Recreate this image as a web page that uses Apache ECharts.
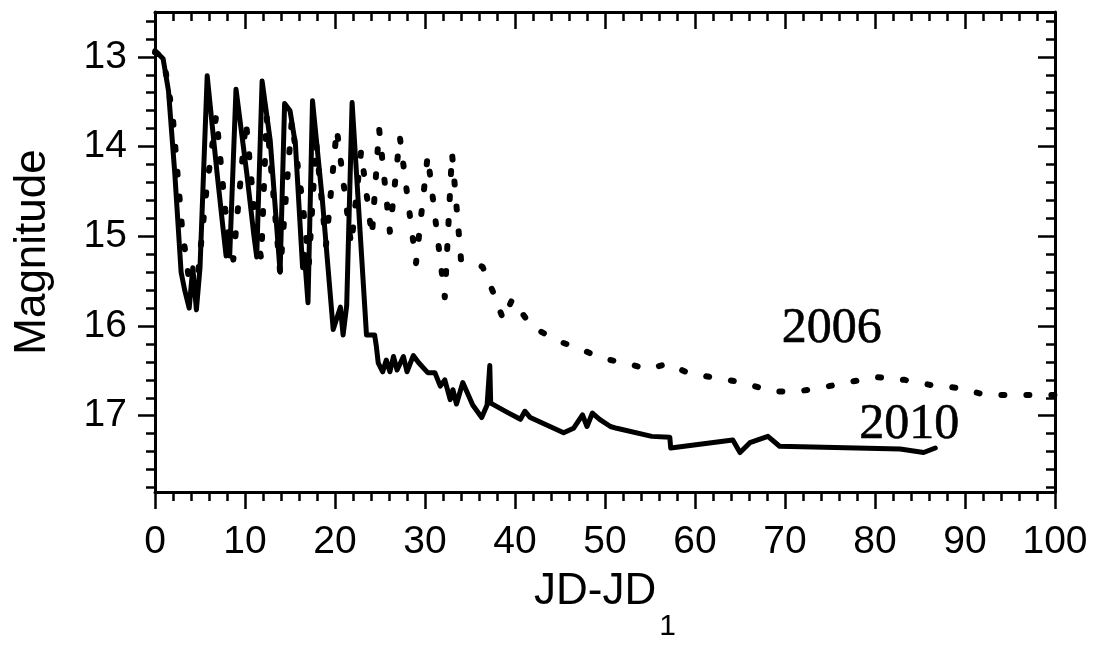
<!DOCTYPE html>
<html>
<head>
<meta charset="utf-8">
<script src="https://cdn.jsdelivr.net/npm/echarts@6/dist/echarts.min.js"></script>
<style>
html,body{margin:0;padding:0;background:#fff;}
#chart{width:1099px;height:647px;}
</style>
</head>
<body>
<div id="chart"></div>
<script>
// ---- data ----
const x2010 = [0, 0.9, 1.5, 2.2, 2.9, 3.3, 3.8, 4.2, 4.6, 5.0, 5.8, 6.9, 7.6, 7.9, 8.1, 8.3, 9.0, 10.2, 11.0, 11.3, 11.9, 12.8, 13.9, 14.4, 15.0, 15.6, 16.4, 16.6, 17.0, 17.5, 18.6, 19.8, 20.6, 20.9, 21.3, 21.9, 23.5, 24.4, 24.6, 24.8, 25.3, 25.7, 26.1, 26.5, 26.9, 27.6, 28.0, 28.7, 29.3, 30.3, 31.1, 31.7, 32.2, 32.8, 33.1, 33.5, 34.2, 35.3, 36.3, 36.9, 37.2, 37.3, 39.1, 40.6, 41.1, 41.7, 45.4, 46.5, 47.5, 48.0, 48.6, 49.4, 50.6, 51.3, 55.2, 57.2, 57.3, 64.2, 65.0, 66.1, 68.1, 69.4, 82.8, 85.4, 86.7];
const m2010 = [12.93, 13.02, 13.38, 14.3, 15.4, 15.6, 15.8, 15.35, 15.82, 15.35, 13.21, 14.3, 14.95, 15.22, 14.95, 15.22, 13.36, 14.3, 15.0, 15.23, 13.27, 13.93, 15.4, 13.52, 13.6, 13.97, 15.35, 15.2, 15.74, 13.49, 14.6, 16.04, 15.79, 16.1, 15.77, 13.51, 16.1, 16.1, 16.23, 16.41, 16.51, 16.38, 16.51, 16.34, 16.49, 16.34, 16.51, 16.33, 16.41, 16.52, 16.52, 16.67, 16.6, 16.82, 16.71, 16.87, 16.63, 16.88, 17.02, 16.88, 16.44, 16.86, 16.96, 17.04, 16.95, 17.02, 17.19, 17.14, 16.99, 17.12, 16.97, 17.04, 17.12, 17.14, 17.23, 17.24, 17.36, 17.27, 17.41, 17.3, 17.23, 17.34, 17.37, 17.41, 17.36];

const x2006 = [0, 0.9, 1.5, 2.0, 3.0, 3.8, 4.8, 5.7, 6.8, 7.8, 8.7, 10.1, 11.2, 11.8, 12.4, 13.9, 15.2, 16.4, 17.1, 17.9, 19.0, 20.2, 21.8, 22.9, 24.1, 24.9, 26.1, 27.2, 29.0, 30.3, 32.2, 33.0, 34.0, 36.4, 37.6, 38.7, 39.7, 41.8, 44.6, 47.6, 49.6, 52.2, 54.7, 57.0, 59.4, 62.4, 65.3, 68.6, 71.4, 74.4, 77.4, 80.3, 83.3, 86.3, 89.2, 92.4, 95.3, 98.3, 100];
const m2006 = [12.95, 13.0, 13.35, 13.7, 14.9, 15.5, 15.4, 14.5, 13.65, 14.7, 15.26, 13.71, 14.9, 15.25, 13.66, 15.4, 13.71, 14.63, 15.3, 13.95, 15.1, 13.8, 15.1, 14.05, 15.0, 13.8, 14.95, 13.89, 15.3, 14.1, 15.68, 14.07, 15.26, 15.34, 15.63, 15.93, 15.7, 16.0, 16.16, 16.27, 16.36, 16.41, 16.48, 16.42, 16.53, 16.58, 16.63, 16.73, 16.73, 16.68, 16.62, 16.57, 16.6, 16.66, 16.69, 16.77, 16.77, 16.77, 16.77];

const labelNames = ['2006', '2010'];
const labelX = [75.2, 83.8];
const labelM = [16.03, 17.1];

const xMin = 0, xMax = 100, xStep = 10;
const yMin = 12.5, yMax = 17.85;
const yMajor = [13, 14, 15, 16, 17];
const yMinor = [12.6, 12.8, 13.2, 13.4, 13.6, 13.8, 14.2, 14.4, 14.6, 14.8, 15.2, 15.4, 15.6, 15.8, 16.2, 16.4, 16.6, 16.8, 17.2, 17.4, 17.6, 17.8];

// ---- chart ----
const zip = (a, b) => a.map((v, i) => [v, b[i]]);
const black = '#000';
const sans = '"Liberation Sans", Arial, sans-serif';
const serif = '"Liberation Serif", "Times New Roman", serif';

const chart = echarts.init(document.getElementById('chart'), null, {renderer: 'canvas'});

const lineW = 3;
function xAx(pos, showLabel) {
  return {
    type: 'value', position: pos, min: xMin, max: xMax, interval: xStep,
    axisLine: {show: true, onZero: false, lineStyle: {color: black, width: lineW}},
    axisTick: {show: true, inside: pos === 'top', length: 17, lineStyle: {color: black, width: 2.5}},
    minorTick: {show: true, splitNumber: 5, length: 9, lineStyle: {color: black, width: 2.5}},
    splitLine: {show: false},
    axisLabel: {show: showLabel, color: black, fontFamily: sans, fontSize: 39, margin: 31},
    name: showLabel ? 'JD-JD{s|1}' : '',
    nameLocation: 'middle',
    nameGap: 50,
    nameTextStyle: {
      color: black, fontFamily: sans, fontSize: 44,
      rich: {s: {color: black, fontFamily: sans, fontSize: 30, padding: [70, 0, 0, 3]}}
    }
  };
}
function yAx(pos, ticks, len, withLine, withLabel) {
  return {
    type: 'value', position: pos, inverse: true, min: yMin, max: yMax,
    axisLine: {show: withLine, onZero: false, lineStyle: {color: black, width: lineW}},
    axisTick: {show: true, inside: pos === 'right', length: len, customValues: ticks, lineStyle: {color: black, width: 2.5}},
    minorTick: {show: false},
    splitLine: {show: false},
    axisLabel: {show: withLabel, customValues: yMajor, color: black, fontFamily: sans, fontSize: 39, margin: 28},
    name: withLabel ? 'Magnitude' : '',
    nameLocation: 'middle',
    nameRotate: 90,
    nameGap: 100,
    nameTextStyle: {color: black, fontFamily: sans, fontSize: 44}
  };
}

const option = {
  animation: false,
  backgroundColor: '#fff',
  grid: {left: 155, right: 44, top: 12, bottom: 154, containLabel: false},
  xAxis: [xAx('bottom', true), xAx('top', false)],
  yAxis: [
    yAx('left', yMajor, 17, true, true),
    yAx('left', yMinor, 9, false, false),
    yAx('right', yMajor, 17, true, false),
    yAx('right', yMinor, 9, false, false)
  ],
  series: [
    {
      name: '2006', type: 'line', xAxisIndex: 0, yAxisIndex: 0,
      data: zip(x2006, m2006), showSymbol: false, symbol: 'none', smooth: false,
      lineStyle: {color: black, width: 6, type: [3, 22], cap: 'round', join: 'round'}
    },
    {
      name: '2010', type: 'line', xAxisIndex: 0, yAxisIndex: 0,
      data: zip(x2010, m2010), showSymbol: false, symbol: 'none', smooth: false,
      lineStyle: {color: black, width: 5, join: 'round', cap: 'round'}
    },
    {
      name: 'labels', type: 'scatter', xAxisIndex: 0, yAxisIndex: 0,
      symbolSize: 1, itemStyle: {color: 'rgba(255,255,255,0)'},
      data: labelNames.map((n, i) => ({name: n, value: [labelX[i], labelM[i]]})),
      label: {show: true, position: 'inside', formatter: '{b}', color: '#000', opacity: 1,
              textBorderColor: '#000', textBorderWidth: 0.6, fontFamily: serif, fontSize: 50},
      emphasis: {disabled: true},
      silent: true
    }
  ]
};
chart.setOption(option);
</script>
</body>
</html>
